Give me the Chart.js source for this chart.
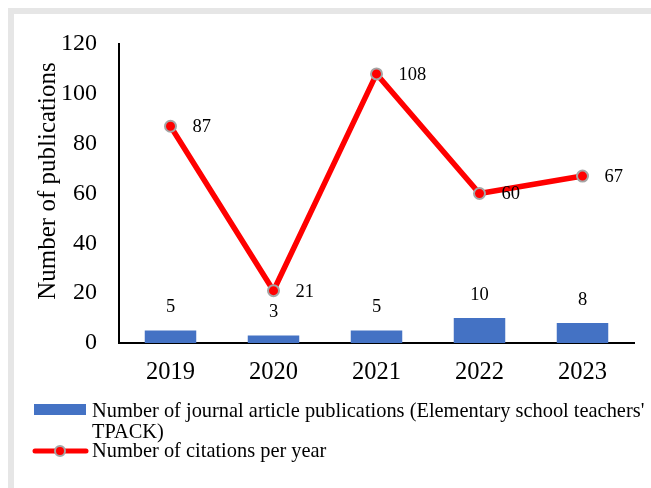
<!DOCTYPE html>
<html>
<head>
<meta charset="utf-8">
<script src="https://cdn.jsdelivr.net/npm/chart.js@4/dist/chart.umd.min.js"></script>
<style>
  html, body { margin: 0; padding: 0; background: #fff; }
  #wrap { position: relative; width: 651px; height: 488px; overflow: hidden; }
  #frame { position: absolute; left: 8px; top: 8px; width: 700px; height: 600px;
           border-left: 6px solid #e6e6e6; border-top: 6px solid #e6e6e6; }
  #c { position: absolute; left: 0; top: 0; }
</style>
</head>
<body>
<div id="wrap">
  <div id="frame"></div>
  <canvas id="c" width="651" height="488"></canvas>
</div>
<script>
var years = ['2019', '2020', '2021', '2022', '2023'];
var publications = [5, 3, 5, 10, 8];
var citations = [87, 21, 108, 60, 67];
var yTicks = [0, 20, 40, 60, 80, 100, 120];

var barLabel = ["Number of journal article publications (Elementary school teachers'", 'TPACK)'];
var lineLabel = 'Number of citations per year';

var serif = "'Liberation Serif', 'Times New Roman', serif";
var barColor = '#4472c4';
var lineColor = '#ff0000';
var markerBorder = '#a5a5a5';

// value labels, drawn from the element positions
var valueLabels = {
    id: 'valueLabels',
    afterDatasetsDraw: function(chart) {
        var ctx = chart.ctx;
        ctx.save();
        ctx.fillStyle = '#000';
        ctx.font = '18.5px ' + serif;

        var bars = chart.getDatasetMeta(0).data;
        ctx.textAlign = 'center';
        ctx.textBaseline = 'middle';
        for (var i = 0; i < bars.length; i++) {
            ctx.fillText(publications[i], bars[i].x, bars[i].y - 23);
        }

        var pts = chart.getDatasetMeta(1).data;
        ctx.textAlign = 'left';
        for (var j = 0; j < pts.length; j++) {
            ctx.fillText(citations[j], pts[j].x + 22, pts[j].y + 1);
        }
        ctx.restore();
    }
};

// legend under the plot, wrapped like the original
var bottomLegend = {
    id: 'bottomLegend',
    afterDraw: function(chart) {
        var ctx = chart.ctx;
        ctx.save();
        ctx.font = '20.4px ' + serif;
        ctx.textAlign = 'left';
        ctx.textBaseline = 'middle';

        ctx.fillStyle = barColor;
        ctx.fillRect(34, 404, 52, 11);
        ctx.fillStyle = '#000';
        ctx.fillText(barLabel[0], 92, 412);
        ctx.fillText(barLabel[1], 92, 433);

        ctx.strokeStyle = lineColor;
        ctx.lineWidth = 5;
        ctx.lineCap = 'round';
        ctx.beginPath();
        ctx.moveTo(35, 451);
        ctx.lineTo(86, 451);
        ctx.stroke();
        ctx.beginPath();
        ctx.arc(60, 451, 5, 0, Math.PI * 2);
        ctx.fillStyle = lineColor;
        ctx.fill();
        ctx.lineWidth = 2;
        ctx.strokeStyle = markerBorder;
        ctx.stroke();
        ctx.fillStyle = '#000';
        ctx.fillText(lineLabel, 92, 452);
        ctx.restore();
    }
};

new Chart(document.getElementById('c'), {
    type: 'bar',
    data: {
        labels: years,
        datasets: [{
            type: 'bar',
            label: barLabel.join(' '),
            data: publications,
            backgroundColor: barColor,
            barPercentage: 0.5,
            categoryPercentage: 1,
            order: 2
        }, {
            type: 'line',
            label: lineLabel,
            data: citations,
            borderColor: lineColor,
            borderWidth: 5.5,
            pointRadius: 5.5,
            pointBackgroundColor: lineColor,
            pointBorderColor: markerBorder,
            pointBorderWidth: 2,
            tension: 0,
            order: 1
        }]
    },
    options: {
        responsive: false,
        animation: false,
        devicePixelRatio: 1,
        layout: { padding: { left: 33, top: 44, right: 17, bottom: 105 } },
        plugins: {
            legend: { display: false },
            tooltip: { enabled: false }
        },
        scales: {
            x: {
                grid: { display: false, drawTicks: false },
                border: { display: true, color: '#000', width: 2 },
                ticks: { color: '#000', font: { family: serif, size: 24.5 }, padding: 15 },
                afterFit: function(scale) { scale.height = 40; }
            },
            y: {
                min: 0,
                max: 120,
                afterBuildTicks: function(scale) {
                    scale.ticks = yTicks.map(function(v) { return { value: v }; });
                },
                grid: { display: false, drawTicks: false },
                border: { display: true, color: '#000', width: 2 },
                ticks: { color: '#000', font: { family: serif, size: 24 }, padding: 22 },
                title: {
                    display: true,
                    // leading spaces lift the title like in the original
                    text: '    Number of publications',
                    color: '#000',
                    font: { family: serif, size: 25 },
                    padding: 0
                },
                afterFit: function(scale) { scale.width = 86; }
            }
        }
    },
    plugins: [valueLabels, bottomLegend]
});
</script>
</body>
</html>
